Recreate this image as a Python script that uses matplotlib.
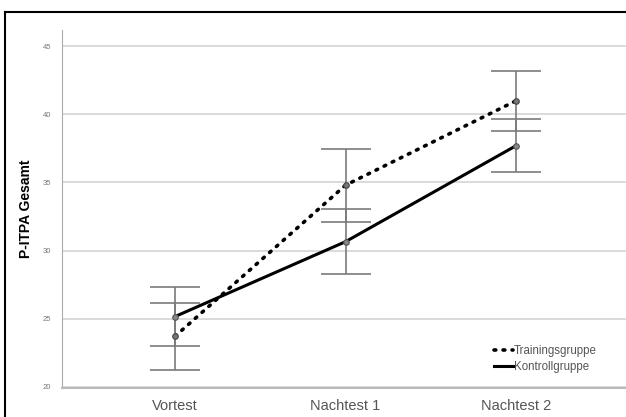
import numpy as np
import matplotlib.pyplot as plt
from matplotlib.lines import Line2D

plt.rcParams["font.family"] = ["Liberation Sans", "DejaVu Sans"]

zeitpunkte = ["Vortest", "Nachtest 1", "Nachtest 2"]
training = [23.7, 34.8, 41.0]
training_fehler = [2.48, 2.67, 2.2]
kontrolle = [25.15, 30.65, 37.7]
kontrolle_fehler = [2.18, 2.37, 1.96]
y_ticks = [20, 25, 30, 35, 40, 45]

fig = plt.figure(figsize=(6.26, 4.17), dpi=100)
ax = fig.add_axes([62 / 626, 1 - 388 / 417, 1 - 62 / 626, (388 - 30) / 417])

x = np.arange(len(zeitpunkte))
grau = "#7a7a7a"

for werte, fehler in [(training, training_fehler), (kontrolle, kontrolle_fehler)]:
    ax.errorbar(x, werte, yerr=fehler, fmt="none", ecolor=grau, elinewidth=1.2,
                capsize=18, capthick=1.2, zorder=3)

ax.plot(x, training, color="black", lw=2.6, linestyle=(0, (0.5, 2.0)),
        dash_capstyle="round", zorder=4, label="Trainingsgruppe")
ax.plot(x, kontrolle, color="black", lw=2.2, zorder=4, label="Kontrollgruppe")
ax.scatter(x, training, s=16, facecolor="#777777", edgecolor="#444444", lw=0.8, zorder=5)
ax.scatter(x, kontrolle, s=16, facecolor="#888888", edgecolor="#555555", lw=0.8, zorder=5)

ax.set_xlim(-0.663, 2.645)
ax.set_ylim(19.9, 46.2)
ax.set_xticks(x)
ax.set_xticklabels(zeitpunkte, fontsize=10.5, color="#555555")
ax.set_yticks(y_ticks)
ax.set_yticklabels([str(t) for t in y_ticks], fontsize=5.5, color="#777777")
ax.tick_params(length=0)
ax.tick_params(axis="x", pad=8)
ax.tick_params(axis="y", pad=8)
ax.set_ylabel("P-ITPA Gesamt", fontsize=10, fontweight="bold", labelpad=7)
ax.yaxis.grid(True, color="#d4d4d4", lw=1.2)
ax.set_axisbelow(True)
for s in ["top", "right"]:
    ax.spines[s].set_visible(False)
ax.spines["left"].set_color("#aaaaaa")
ax.spines["bottom"].set_color("#bbbbbb")
ax.spines["bottom"].set_linewidth(1.5)

ax.legend(loc="upper left", bbox_to_anchor=(484 / 626, 1 - 335 / 417),
          bbox_transform=fig.transFigure, frameon=False, fontsize=8.3,
          handlelength=1.6, handletextpad=0.1, labelspacing=0.3,
          labelcolor="#555555")

# schwarzer Rahmen links und oben
fig.add_artist(Line2D([5 / 626, 5 / 626], [0, 1 - 12 / 417], color="black", lw=1.5))
fig.add_artist(Line2D([5 / 626, 1], [1 - 12 / 417, 1 - 12 / 417], color="black", lw=1.5))

plt.savefig("out.png", dpi=100)
